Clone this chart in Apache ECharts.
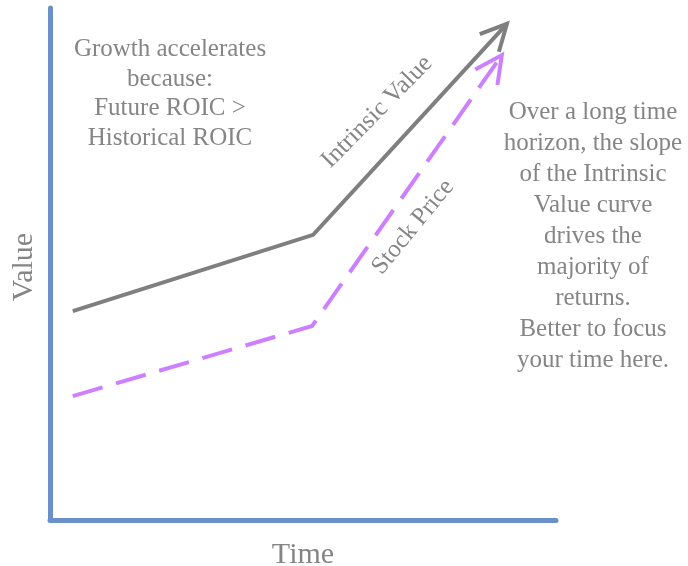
<!DOCTYPE html>
<html>
<head>
<meta charset="utf-8">
<script src="https://cdn.jsdelivr.net/npm/echarts@6/dist/echarts.min.js"></script>
<style>
html,body{margin:0;padding:0;background:#fff;}
#main{width:688px;height:566px;}
</style>
</head>
<body>
<div id="main"></div>
<script>
// ---- data ----
const intrinsicTime  = [4.5, 52.0, 90.3];
const intrinsicValue = [40.8, 55.7, 96.9];
const priceTime      = [4.5, 51.8, 89.3];
const priceValue     = [24.2, 37.9, 90.8];
const seriesNames    = ['Intrinsic Value', 'Stock Price'];
const axisNames      = ['Time', 'Value'];
const leftNote  = ['Growth accelerates', 'because:', 'Future ROIC >', 'Historical ROIC'];
const rightNote = ['Over a long time', 'horizon, the slope', 'of the Intrinsic', 'Value curve',
                   'drives the', 'majority of', 'returns.', 'Better to focus', 'your time here.'];

const FONT = '"Liberation Serif", "DejaVu Serif", serif';
const TXT = '#858585';
const GRAY = '#7f7f7f';
const PURPLE = '#cc80ff';
const AXIS = '#6b8fc9';
const CHEVRON = 'path://M0,25 L12.7,0 L25.4,25';

function pairs(xs, ys) { return xs.map((x, i) => [x, ys[i]]); }

const chart = echarts.init(document.getElementById('main'), null, {renderer: 'canvas'});

function baseSeries(name, xs, ys, color, dash, size) {
  return {
    name: name,
    type: 'line',
    data: pairs(xs, ys).map((p, i) => ({value: p, symbol: i === xs.length - 1 ? CHEVRON : 'none', symbolSize: [size, size]})),
    showSymbol: true,
    showAllSymbol: true,
    symbol: CHEVRON,
    symbolKeepAspect: false,
    lineStyle: {color: color, width: 4, type: dash, cap: 'butt', join: 'miter'},
    itemStyle: {color: 'rgba(0,0,0,0)', borderColor: color, borderWidth: 4, borderType: 'solid', borderJoin: 'miter'},
    emphasis: {disabled: true},
    silent: true,
    z: 3
  };
}

const option = {
  backgroundColor: '#ffffff',
  animation: false,
  grid: {left: 50, right: 132, top: 8, bottom: 46, containLabel: false, outerBoundsMode: 'none'},
  xAxis: {
    type: 'value', min: 0, max: 100,
    name: axisNames[0], nameLocation: 'middle', nameGap: 20,
    nameTextStyle: {fontFamily: FONT, fontSize: 30, color: TXT},
    axisLine: {show: true, lineStyle: {color: AXIS, width: 5}},
    axisTick: {show: false}, axisLabel: {show: false}, splitLine: {show: false}
  },
  yAxis: {
    type: 'value', min: 0, max: 100,
    name: axisNames[1], nameLocation: 'middle', nameGap: 11,
    nameTextStyle: {fontFamily: FONT, fontSize: 30, color: TXT, padding: [0, 6, 0, 0]},
    axisLine: {show: true, lineStyle: {color: AXIS, width: 5}},
    axisTick: {show: false}, axisLabel: {show: false}, splitLine: {show: false}
  },
  series: [
    baseSeries(seriesNames[0], intrinsicTime, intrinsicValue, GRAY, 'solid', 26),
    baseSeries(seriesNames[1], priceTime, priceValue, PURPLE, [31, 14], 27)
  ],
  graphic: [
    {type: 'text', x: 170, y: 35, silent: true,
     style: {text: leftNote.join('\n'), font: '25px ' + FONT, fill: TXT, align: 'center', verticalAlign: 'top', lineHeight: 29.5}},
    {type: 'text', x: 593, y: 97, silent: true,
     style: {text: rightNote.join('\n'), font: '25px ' + FONT, fill: TXT, align: 'center', verticalAlign: 'top', lineHeight: 31}},
    {type: 'text', x: 377, y: 112, rotation: 45.5 * Math.PI / 180, silent: true,
     style: {text: seriesNames[0], font: '25px ' + FONT, fill: TXT, align: 'center', verticalAlign: 'middle'}},
    {type: 'text', x: 413, y: 227, rotation: 50.6 * Math.PI / 180, silent: true,
     style: {text: seriesNames[1], font: '25px ' + FONT, fill: TXT, align: 'center', verticalAlign: 'middle'}}
  ]
};

chart.setOption(option);

// orient the arrow heads along the last segment of each line
function arrowData(seriesIndex, xs, ys, size) {
  const n = xs.length;
  const a = chart.convertToPixel({seriesIndex: seriesIndex}, [xs[n - 2], ys[n - 2]]);
  const b = chart.convertToPixel({seriesIndex: seriesIndex}, [xs[n - 1], ys[n - 1]]);
  const dx = b[0] - a[0], dy = b[1] - a[1];
  const len = Math.hypot(dx, dy);
  const ux = dx / len, uy = dy / len;
  const angUp = Math.atan2(-dy, dx) * 180 / Math.PI;
  return pairs(xs, ys).map((p, i) => {
    if (i < n - 1) return {value: p, symbol: 'none'};
    return {value: p, symbol: CHEVRON, symbolSize: [size, size],
            symbolRotate: angUp - 90, symbolOffset: [-ux * size / 2, -uy * size / 2]};
  });
}

chart.setOption({
  series: [
    {data: arrowData(0, intrinsicTime, intrinsicValue, 26)},
    {data: arrowData(1, priceTime, priceValue, 27)}
  ]
});
</script>
</body>
</html>
